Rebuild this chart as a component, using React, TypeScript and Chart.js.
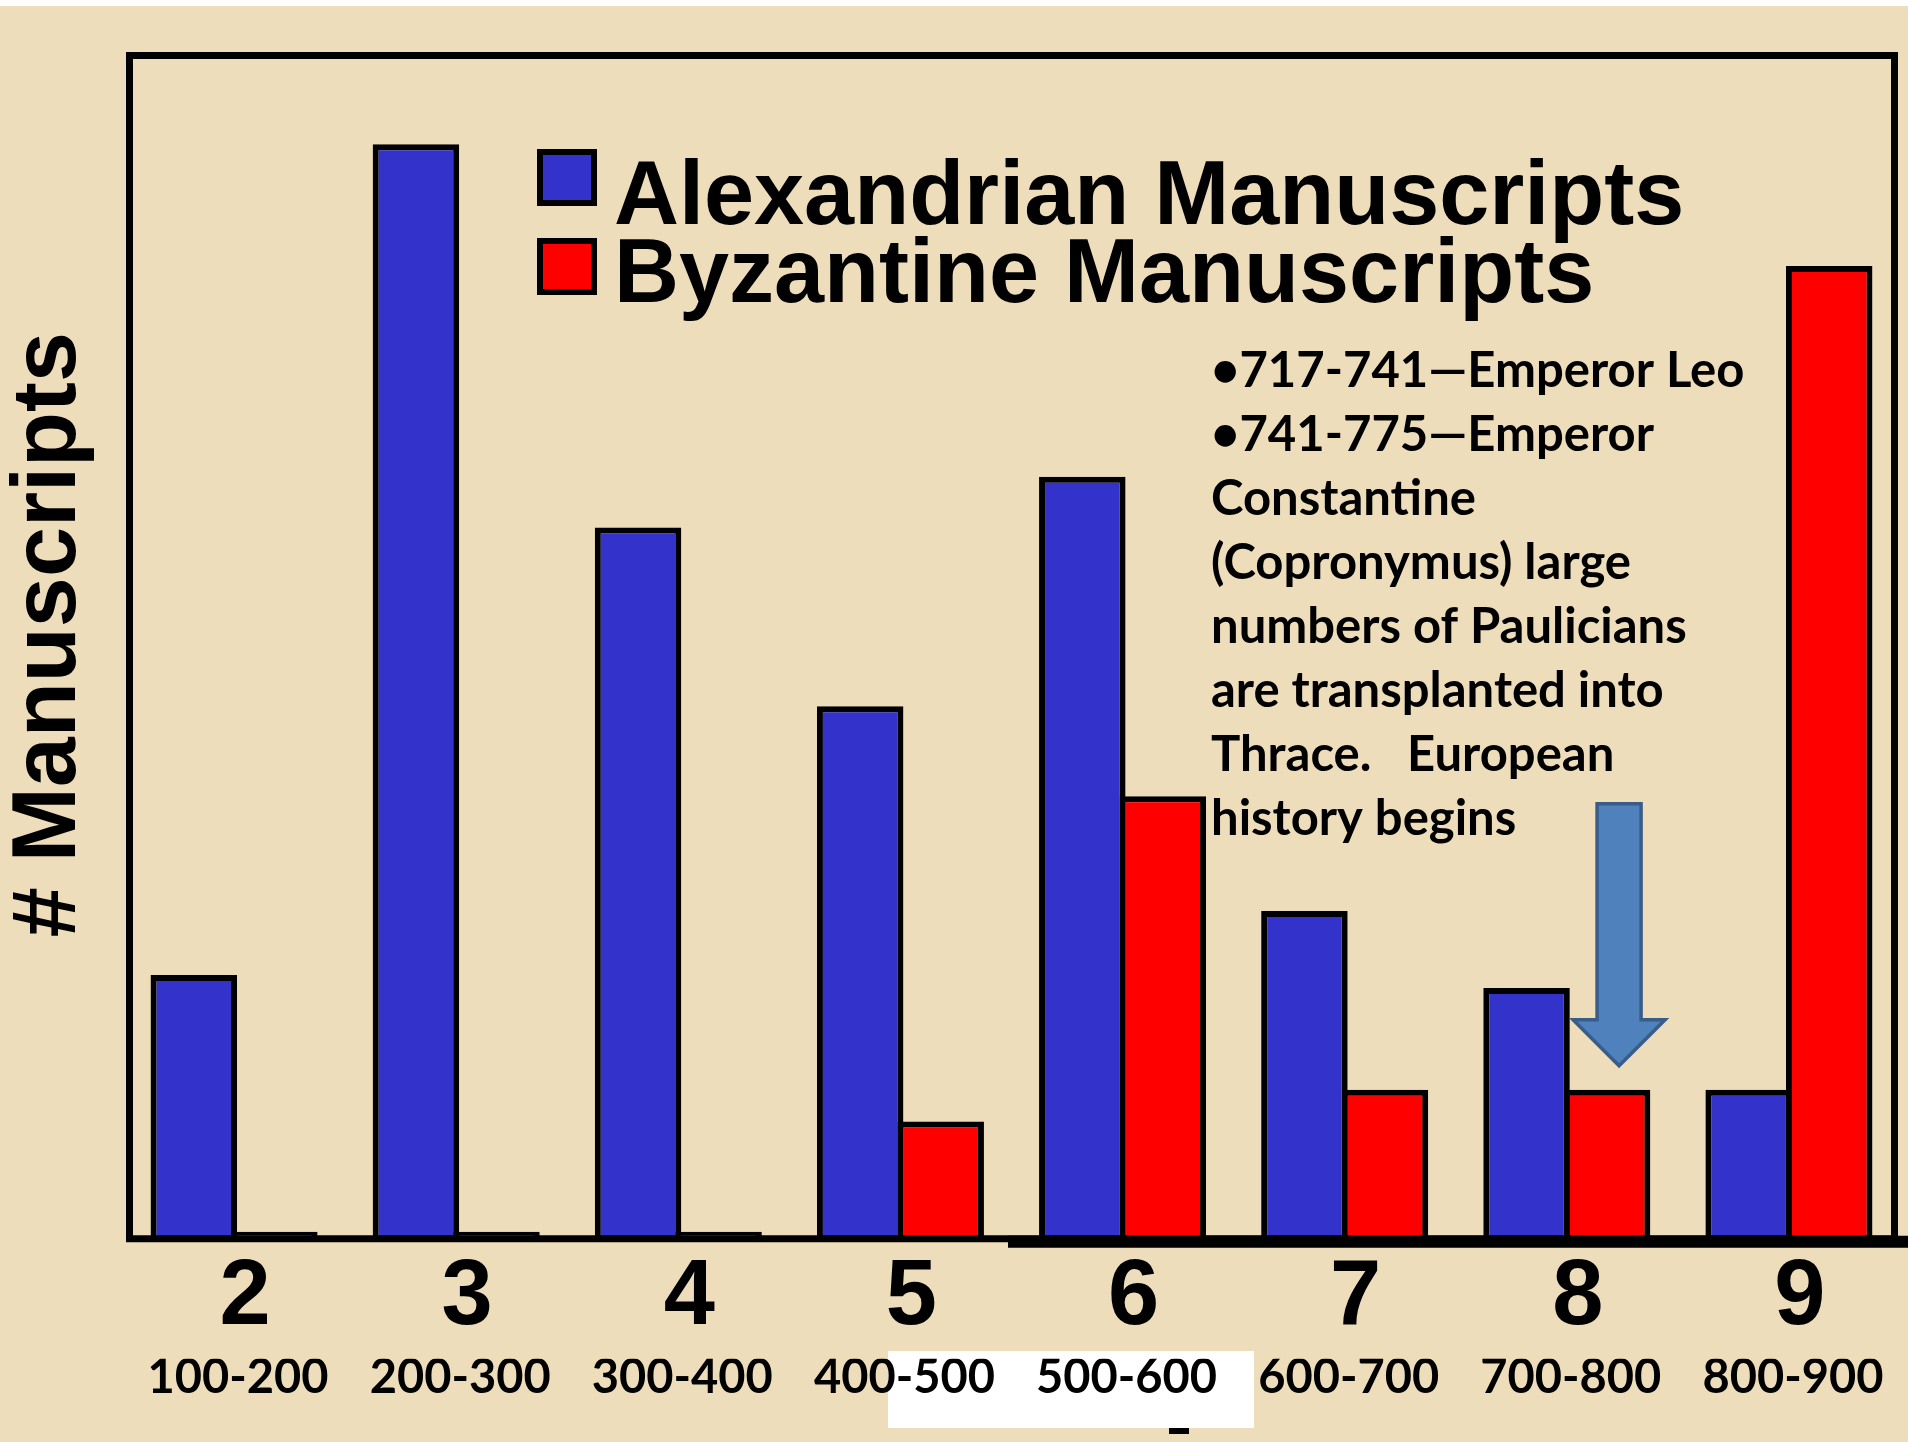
import { useEffect, useRef } from 'react';
import { Chart, registerables } from 'chart.js';

Chart.register(...registerables);

// ---- data ----
const centuries = ['2', '3', '4', '5', '6', '7', '8', '9'];
const yearRanges = ['100-200', '200-300', '300-400', '400-500', '500-600', '600-700', '700-800', '800-900'];
const alexandrian = [22.3, 92.5, 60.1, 45.0, 64.4, 27.7, 21.2, 12.6];
const byzantine = [0.6, 0.6, 0.6, 9.9, 37.4, 12.6, 12.6, 82.2];
const seriesLabels = ['Alexandrian Manuscripts', 'Byzantine Manuscripts'];
const seriesColors = ['#3333CC', '#FF0000'];
const yAxisTitle = ' # Manuscripts';
const noteLines = [
  '•717-741—Emperor Leo',
  '•741-775—Emperor',
  'Constantine',
  '(Copronymus) large',
  'numbers of Paulicians',
  'are transplanted into',
  'Thrace.   European',
  'history begins',
];
const arrowSeries = 1;
const arrowIndex = 6;

const PIXEL_FONT = '"Liberation Sans", Arial, sans-serif';
const TEXT_FONT = 'Lato, "Open Sans", sans-serif';

const backdropPlugin = {
  id: 'backdrop',
  beforeDraw(chart: any) {
    const ctx = chart.ctx;
    ctx.save();
    ctx.fillStyle = '#ffffff';
    ctx.fillRect(888, 1351, 366, 77);
    ctx.fillStyle = '#000000';
    ctx.fillRect(1169, 1428, 20, 6);
    ctx.restore();
  },
};

const framePlugin = {
  id: 'frame',
  afterDatasetsDraw(chart: any) {
    const { ctx, chartArea } = chart;
    ctx.save();
    ctx.strokeStyle = '#000';
    ctx.lineWidth = 7;
    const l = chartArea.left + 6.5;
    const r = chartArea.right - 5.5;
    ctx.strokeRect(l, chartArea.top, r - l, chartArea.bottom - chartArea.top);
    ctx.fillStyle = '#000';
    ctx.fillRect(1008, chartArea.bottom - 3, 900, 12);
    ctx.restore();
  },
};

const legendPlugin = {
  id: 'customLegend',
  afterDraw(chart: any) {
    const ctx = chart.ctx;
    const boxTops = [149, 238];
    const baselines = [224, 302];
    ctx.save();
    chart.data.datasets.forEach((ds: any, i: number) => {
      ctx.fillStyle = '#000';
      ctx.fillRect(537, boxTops[i], 60, 57);
      ctx.fillStyle = ds.backgroundColor;
      ctx.fillRect(543, boxTops[i] + 6, 48, 45);
      ctx.fillStyle = '#000';
      ctx.font = `bold 90px ${PIXEL_FONT}`;
      ctx.textBaseline = 'alphabetic';
      ctx.textAlign = 'left';
      ctx.fillText(ds.label, 614, baselines[i]);
    });
    ctx.restore();
  },
};

const notesPlugin = {
  id: 'notes',
  afterDraw(chart: any) {
    const ctx = chart.ctx;
    ctx.save();
    ctx.fillStyle = '#000';
    ctx.font = `bold 49px ${TEXT_FONT}`;
    ctx.textBaseline = 'alphabetic';
    ctx.textAlign = 'left';
    noteLines.forEach((line, i) => {
      ctx.fillText(line, 1211, 387 + i * 64);
    });
    ctx.restore();
  },
};

const arrowPlugin = {
  id: 'arrow',
  afterDraw(chart: any) {
    const el = chart.getDatasetMeta(arrowSeries).data[arrowIndex];
    if (!el) return;
    const ctx = chart.ctx;
    const cx = el.x + 12;
    const tip = el.y - 24;
    const shaftHalf = 22;
    const headHalf = 46;
    const headBase = tip - 46;
    const top = tip - 262;
    ctx.save();
    ctx.beginPath();
    ctx.moveTo(cx - shaftHalf, top);
    ctx.lineTo(cx + shaftHalf, top);
    ctx.lineTo(cx + shaftHalf, headBase);
    ctx.lineTo(cx + headHalf, headBase);
    ctx.lineTo(cx, tip);
    ctx.lineTo(cx - headHalf, headBase);
    ctx.lineTo(cx - shaftHalf, headBase);
    ctx.closePath();
    ctx.fillStyle = '#4F81BD';
    ctx.fill();
    ctx.lineWidth = 3.5;
    ctx.strokeStyle = '#385D8A';
    ctx.stroke();
    ctx.restore();
  },
};

export default function App() {
  const canvasRef = useRef<HTMLCanvasElement | null>(null);

  useEffect(() => {
    const canvas = canvasRef.current;
    if (!canvas) return;
    const barCommon = {
      borderColor: '#000000',
      borderWidth: 6,
      categoryPercentage: 0.725,
      barPercentage: 1.0745,
    };
    const chart = new Chart(canvas, {
      type: 'bar',
      data: {
        labels: centuries,
        datasets: [
          { label: seriesLabels[0], data: alexandrian, backgroundColor: seriesColors[0], ...barCommon },
          { label: seriesLabels[1], data: byzantine, backgroundColor: seriesColors[1], ...barCommon },
        ],
      },
      options: {
        responsive: false,
        animation: false,
        devicePixelRatio: 1,
        layout: { padding: { left: 0, top: 55.5, right: 8, bottom: 46 } },
        plugins: {
          legend: { display: false },
          tooltip: { enabled: false },
          title: { display: false },
        },
        scales: {
          x: {
            type: 'category',
            position: 'bottom',
            weight: 0,
            grid: { display: false, drawTicks: false },
            border: { display: false },
            ticks: {
              color: '#000',
              font: { family: PIXEL_FONT, weight: 'bold', size: 92, lineHeight: 1 },
              padding: 14,
              labelOffset: 11,
              autoSkip: false,
              maxRotation: 0,
              minRotation: 0,
            },
          },
          x2: {
            type: 'category',
            labels: yearRanges,
            position: 'bottom',
            weight: 1,
            grid: { display: false, drawTicks: false },
            border: { display: false },
            ticks: {
              color: '#000',
              font: { family: TEXT_FONT, weight: 'bold', size: 47, lineHeight: 0.75 },
              padding: 1,
              labelOffset: 4,
              autoSkip: false,
              maxRotation: 0,
              minRotation: 0,
            },
          },
          y: {
            min: 0,
            max: 100,
            grid: { display: false, drawTicks: false },
            border: { display: false },
            ticks: { display: false },
            title: {
              display: true,
              text: yAxisTitle,
              color: '#000',
              font: { family: PIXEL_FONT, weight: 'bold', size: 90, lineHeight: 1 },
              padding: { top: 5.5, bottom: 27.5 },
            },
          },
        },
      } as any,
      plugins: [backdropPlugin, framePlugin, legendPlugin, notesPlugin, arrowPlugin],
    });
    let alive = true;
    if ((document as any).fonts && (document as any).fonts.ready) {
      (document as any).fonts.ready.then(() => {
        if (alive) chart.update();
      });
    }
    return () => {
      alive = false;
      chart.destroy();
    };
  }, []);

  return (
    <div
      style={{
        position: 'absolute',
        left: 0,
        top: 0,
        width: 1908,
        height: 1442,
        background: 'linear-gradient(#ffffff 0px, #ffffff 6px, #EEDDBA 6px, #EEDDBA 100%)',
      }}
    >
      <canvas ref={canvasRef} width={1908} height={1442} style={{ display: 'block' }} />
    </div>
  );
}
